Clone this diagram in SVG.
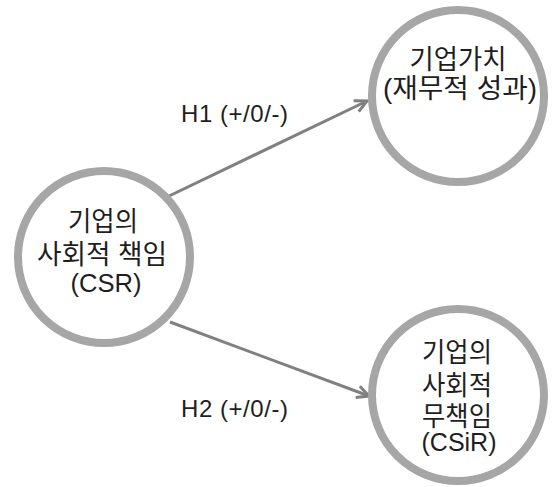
<svg xmlns="http://www.w3.org/2000/svg" width="555" height="487" viewBox="0 0 555 487">
<style>
.node circle{fill:#ffffff;stroke:#a6a6a6;stroke-width:8}
.kr{font-family:"Liberation Sans","Noto Sans CJK KR",sans-serif;font-size:27px;fill:#1e1e1e;text-anchor:middle}
.la{font-family:"Liberation Sans","Noto Sans CJK KR",sans-serif;font-size:25px;fill:#1e1e1e;text-anchor:middle}
.lbl{font-family:"Liberation Sans",sans-serif;font-size:24px;fill:#1e1e1e}
.conn line{stroke:#808080;stroke-width:3;fill:none}
</style>
<defs>
<marker id="arr" markerUnits="userSpaceOnUse" viewBox="-14 -8 16 16" refX="0" refY="0" markerWidth="16" markerHeight="16" orient="auto">
<path d="M-12,-6 L0,0 L-12,6" fill="none" stroke="#808080" stroke-width="3" stroke-linejoin="miter"/>
</marker>
</defs>
<rect width="555" height="487" fill="#ffffff"/>
<g id="connectors" class="conn">
<line x1="167" y1="197" x2="367" y2="101" marker-end="url(#arr)"/>
<line x1="170" y1="322" x2="369" y2="396" marker-end="url(#arr)"/>
</g>
<g id="node-csr" class="node">
<circle cx="104" cy="257" r="86"/>
<text class="kr" x="103" y="231" textLength="70" lengthAdjust="spacingAndGlyphs">기업의</text>
<text class="kr" x="102" y="264" textLength="130" lengthAdjust="spacingAndGlyphs">사회적 책임</text>
<text class="la" x="106" y="292" textLength="71" lengthAdjust="spacingAndGlyphs">(CSR)</text>
</g>
<g id="node-value" class="node">
<circle cx="458" cy="96" r="86"/>
<text class="kr" x="458" y="69" textLength="97" lengthAdjust="spacingAndGlyphs">기업가치</text>
<text class="kr" x="460" y="98" textLength="154" lengthAdjust="spacingAndGlyphs">(재무적 성과)</text>
</g>
<g id="node-csir" class="node">
<circle cx="458" cy="395" r="86"/>
<text class="kr" x="457" y="362" textLength="70" lengthAdjust="spacingAndGlyphs">기업의</text>
<text class="kr" x="457" y="395" textLength="70" lengthAdjust="spacingAndGlyphs">사회적</text>
<text class="kr" x="457" y="426" textLength="70" lengthAdjust="spacingAndGlyphs">무책임</text>
<text class="la" x="459" y="451" textLength="75" lengthAdjust="spacingAndGlyphs">(CSiR)</text>
</g>
<g id="labels">
<text class="lbl" x="181" y="122" textLength="107" lengthAdjust="spacing">H1 (+/0/-)</text>
<text class="lbl" x="181" y="417" textLength="107" lengthAdjust="spacing">H2 (+/0/-)</text>
</g>
</svg>
